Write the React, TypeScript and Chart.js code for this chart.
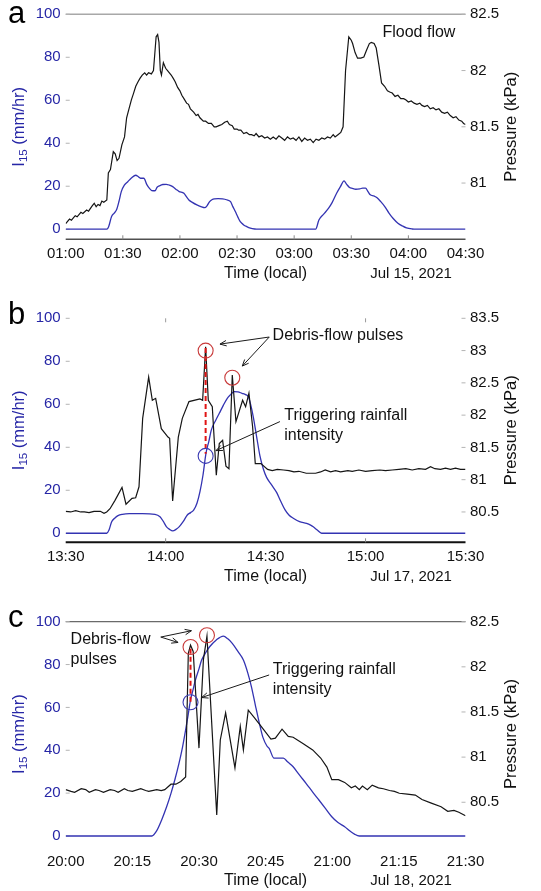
import React, { useEffect, useRef } from "react";
import { Chart, registerables } from "chart.js";

Chart.register(...registerables);

const FONT = '"Liberation Sans", Arial, Helvetica, sans-serif';
const BLUE_TEXT = "#2626a6";
const BLUE_LINE = "#3333b2";
const BLACK_LINE = "#151515";

// ---------- shared ticks ----------
const leftTicks = [0, 20, 40, 60, 80, 100];

// ---------- panel a (Jul 15, 2021) ----------
const aTickLabels = ["01:00", "01:30", "02:00", "02:30", "03:00", "03:30", "04:00", "04:30"];
const aRightTicks = [81, 81.5, 82, 82.5];
const aRainMin = [0, 21.6, 22.5, 24.1, 25.5, 26.7, 28, 29.2, 30.8, 32.6, 34.5, 36.8, 38, 39.3, 41, 42.7, 44, 45.2, 46.9, 48, 49.5, 51, 52.8, 54.5, 56.2, 58, 59.6, 62.1, 63.5, 64.7, 66.5, 68.9, 71, 73.1, 74.3, 75.6, 77, 78.2, 80, 82.4, 84.5, 86.6, 87.8, 89.1, 90.5, 91.7, 93.5, 95.1, 97, 99.3, 101, 131.3, 133, 135.5, 138.1, 140, 142.3, 144.3, 146.2, 147.5, 149.1, 150.5, 152.4, 154.5, 156, 157.5, 158.8, 160, 161.8, 163.4, 165.5, 167.6, 169.8, 171.9, 174.5, 176.9, 179, 182, 184, 210];
const aRainI15 = [0, 0, 1, 5.9, 7.5, 9, 13, 17.5, 20.5, 22.1, 23.8, 25.1, 24.5, 23.7, 23.7, 20.6, 19, 18, 17.9, 19.5, 20.3, 20.8, 20.9, 20.5, 19.8, 18.5, 17.5, 16.7, 15, 13.6, 12.5, 11.3, 10.5, 10, 11, 12.8, 13.8, 14.1, 14.2, 14.1, 13.7, 12.8, 10.5, 8.2, 5.5, 3.5, 2, 1.2, 0.5, 0.1, 0, 0, 4.3, 7, 9.8, 12.5, 16.7, 19.8, 22.5, 21, 19.4, 19, 18.6, 18.8, 19.1, 19.1, 17.5, 16, 15.5, 14.7, 12.8, 10.5, 7.5, 5.1, 2.8, 1.5, 0.6, 0.1, 0, 0];
const aPresMin = [0, 2, 3, 5, 6, 8, 9, 11, 12, 14, 15, 16, 17, 18, 19, 20, 21.6, 22.4, 23.5, 25, 26, 27, 28, 29.5, 30.9, 32, 33.1, 34.5, 35.5, 36.8, 38, 39, 40.2, 41.5, 42.5, 43.5, 45, 46.1, 46.8, 47.5, 48.3, 49, 49.7, 50.3, 51.3, 52.5, 53.5, 55.4, 56.5, 57.5, 58.8, 60, 61, 62.1, 63.5, 64.5, 65.5, 67.2, 68.5, 69.5, 70.5, 72.3, 73.5, 75, 76.5, 78, 79, 80.5, 82, 83.5, 84.9, 86, 87.5, 88.5, 90, 90.8, 92, 93.5, 95, 96.5, 97.6, 99, 100, 101.5, 103, 104.5, 106, 107.5, 109, 110.5, 112, 113.5, 115, 116.5, 118, 119.5, 121, 122.5, 124, 125.5, 127, 128.5, 130, 131.5, 133, 134.5, 136, 137.5, 139, 140.5, 141.5, 143, 144.5, 145.7, 147, 148.7, 150, 150.7, 152, 153.3, 155, 156.6, 158, 159.5, 160.5, 162, 163.1, 164.5, 165.9, 167.5, 169, 170.2, 171.5, 173, 174.5, 176, 177.5, 178.6, 180, 181.5, 183, 184.5, 186, 187.1, 188.5, 190, 191.5, 193, 194.5, 196, 197.5, 199, 200.5, 202, 203.5, 205, 206.5, 208, 209, 210];
const aPresKPa = [80.64, 80.68, 80.67, 80.71, 80.7, 80.74, 80.73, 80.76, 80.75, 80.8, 80.82, 80.79, 80.81, 80.8, 80.84, 80.83, 80.85, 81.09, 81.12, 81.28, 81.26, 81.2, 81.22, 81.34, 81.41, 81.58, 81.65, 81.74, 81.79, 81.86, 81.9, 81.93, 81.96, 81.98, 81.96, 81.98, 81.97, 82.0, 82.15, 82.3, 82.32, 82.25, 82.0, 81.96, 82.07, 82.02, 82.0, 81.96, 81.93, 81.9, 81.85, 81.82, 81.78, 81.75, 81.71, 81.7, 81.66, 81.63, 81.6, 81.61, 81.58, 81.55, 81.55, 81.53, 81.53, 81.5, 81.5, 81.51, 81.52, 81.54, 81.55, 81.52, 81.51, 81.48, 81.48, 81.47, 81.47, 81.44, 81.45, 81.43, 81.43, 81.42, 81.44, 81.41, 81.42, 81.4, 81.41, 81.39, 81.41, 81.39, 81.42, 81.4, 81.38, 81.41, 81.39, 81.4, 81.38, 81.41, 81.37, 81.4, 81.38, 81.39, 81.36, 81.39, 81.38, 81.4, 81.39, 81.41, 81.4, 81.43, 81.41, 81.43, 81.45, 81.5, 82.0, 82.3, 82.27, 82.24, 82.16, 82.11, 82.11, 82.12, 82.18, 82.24, 82.25, 82.24, 82.2, 82.05, 81.89, 81.86, 81.82, 81.81, 81.8, 81.77, 81.78, 81.75, 81.75, 81.74, 81.72, 81.73, 81.71, 81.7, 81.71, 81.69, 81.68, 81.69, 81.66, 81.67, 81.65, 81.66, 81.63, 81.62, 81.63, 81.6, 81.58, 81.59, 81.56, 81.55, 81.53, 81.52];

// ---------- panel b (Jul 17, 2021) ----------
const bTickLabels = ["13:30", "14:00", "14:30", "15:00", "15:30"];
const bRightTicks = [80.5, 81, 81.5, 82, 82.5, 83, 83.5];
const bRainMin = [0, 12.3, 13, 13.8, 14.7, 15.7, 17, 19.1, 23, 26.8, 28.3, 29.3, 30.2, 31.2, 32.1, 33.1, 34.1, 35.3, 36.5, 37.5, 38.4, 39.4, 40.3, 41.2, 42.1, 43, 43.7, 45, 46.1, 47.3, 48.5, 49.5, 50.5, 51.7, 52.9, 54, 54.8, 55.5, 56.3, 57.3, 58.3, 59.3, 60.3, 61.8, 63.3, 64.5, 65.8, 67, 68.3, 70.2, 72.3, 73.5, 74.3, 75.5, 76.8, 120];
const bRainI15 = [0, 0, 1.5, 5.4, 7, 8.2, 8.8, 9.1, 9.1, 8.8, 7.7, 5.5, 3.1, 1.8, 1.1, 1.8, 3.1, 5.5, 8.5, 9.6, 10.8, 14, 19.4, 27, 37.2, 43, 48, 52.5, 55.8, 59.5, 62.8, 64.5, 65.9, 65.8, 65.1, 64.5, 63.5, 60, 54.2, 45, 36, 30, 26, 22.5, 19, 15, 11, 8.5, 7, 5.4, 4.6, 3.8, 3, 1.5, 0, 0];
const bPresMin = [0, 1.5, 3, 4.5, 5.6, 7, 8.5, 10.4, 11.5, 12.3, 13.3, 14.8, 16.9, 18.1, 19.9, 21, 22, 23.1, 24.9, 26, 27, 28.7, 30.7, 31.2, 32.1, 33.8, 35, 37, 40.3, 41.1, 42, 42.8, 44, 45.2, 46.1, 47.1, 48.1, 49, 50, 51.1, 53.1, 54, 55, 56.1, 56.9, 58.6, 60.6, 62, 63.5, 65.4, 67, 68.5, 70, 72.2, 73.5, 75, 76.5, 77.9, 79.5, 81, 82.5, 84.7, 86, 88, 90, 92, 94.3, 96, 98, 100, 102.1, 104, 106, 108, 109.5, 110.8, 112.5, 114, 115.5, 117, 118.5, 120];
const bPresKPa = [80.51, 80.5, 80.52, 80.5, 80.5, 80.49, 80.51, 80.51, 80.48, 80.5, 80.55, 80.68, 80.88, 80.62, 80.71, 80.72, 80.89, 81.95, 82.59, 82.23, 82.26, 81.79, 81.66, 81.64, 80.67, 81.66, 81.95, 82.21, 82.25, 82.23, 83.06, 82.23, 82.13, 81.07, 81.56, 81.61, 81.21, 81.17, 82.62, 81.9, 82.23, 82.13, 82.34, 81.82, 81.25, 81.25, 81.16, 81.14, 81.16, 81.15, 81.14, 81.12, 81.13, 81.1, 81.1, 81.1, 81.12, 81.15, 81.12, 81.14, 81.12, 81.14, 81.13, 81.15, 81.13, 81.14, 81.15, 81.14, 81.15, 81.16, 81.17, 81.15, 81.17, 81.16, 81.2, 81.17, 81.16, 81.18, 81.16, 81.18, 81.16, 81.16];

// ---------- panel c (Jul 18, 2021) ----------
const cTickLabels = ["20:00", "20:15", "20:30", "20:45", "21:00", "21:15", "21:30"];
const cRightTicks = [80.5, 81, 81.5, 82, 82.5];
const cRainMin = [0, 19.4, 20.5, 21.6, 22.7, 23.7, 24.6, 25.5, 26.3, 27, 27.6, 28.1, 28.7, 29.2, 30, 30.6, 31.5, 32.4, 33.9, 35.5, 36.5, 37.5, 38.8, 40, 41, 41.8, 42.7, 43.6, 44.4, 45.3, 45.8, 46.9, 49, 50, 51.2, 52.6, 54.1, 55.6, 57, 58.5, 59.9, 61.3, 62.8, 64, 65, 66.1, 90];
const cRainI15 = [0, 0, 2.5, 7.5, 13.5, 19.9, 26.5, 33.9, 41.5, 49.5, 57, 63.5, 68.5, 72.8, 78, 82.1, 85.5, 88.3, 91.5, 93.3, 92, 89.9, 86, 82.1, 76, 69.7, 61, 52.6, 46, 42, 40.9, 36.3, 36.3, 34.5, 32.3, 28.5, 24.6, 20.5, 16.8, 12.8, 9, 6.3, 4.3, 2.3, 0.9, 0, 0];
const cPresMin = [0, 1.2, 2, 3.5, 4.5, 5.3, 6.7, 7.5, 8.5, 10, 11, 11.8, 13.2, 14, 15, 16.9, 18, 18.7, 20.5, 21.5, 22.3, 23.7, 24.8, 25.9, 27, 27.6, 28.1, 28.7, 30, 31, 31.8, 34, 34.8, 36, 38.1, 39.3, 40, 41.1, 42.6, 44, 46.2, 47.2, 48.7, 50.1, 51.2, 53.4, 55.6, 57.4, 58.8, 59.9, 61.4, 62.8, 64.3, 65.2, 66.1, 66.8, 67.9, 69, 70.4, 71.5, 72.9, 74, 75.1, 76.9, 78.7, 80.2, 82.3, 84.5, 86, 87.4, 88.5, 90];
const cPresKPa = [80.64, 80.62, 80.61, 80.65, 80.64, 80.61, 80.64, 80.63, 80.61, 80.64, 80.63, 80.61, 80.65, 80.63, 80.62, 80.65, 80.63, 80.62, 80.64, 80.63, 80.64, 80.7, 80.7, 80.73, 80.78, 82.15, 82.24, 82.17, 81.1, 82.08, 82.34, 80.36, 81.19, 81.49, 80.88, 81.34, 81.08, 81.52, 81.43, 81.34, 81.2, 81.21, 81.31, 81.23, 81.22, 81.15, 81.08, 80.99, 80.89, 80.75, 80.75, 80.72, 80.66, 80.68, 80.64, 80.68, 80.64, 80.69, 80.66, 80.65, 80.63, 80.62, 80.6, 80.59, 80.58, 80.53, 80.49, 80.45, 80.4, 80.41, 80.39, 80.35];

type Note =
  | { kind: "text"; x: number; y: number; axis: "L" | "R"; lines: string[] }
  | { kind: "circle"; x: number; y: number; axis: "L" | "R"; color: string }
  | { kind: "dash"; x: number; yTopR: number; yBotL: number }
  | { kind: "arrow"; x1: number; y1: number; x2: number; y2: number; axis: "L" | "R" };

type Panel = {
  letter: string;
  top: number;
  height: number;
  areaTop: number;
  areaBottom: number;
  xMax: number;
  xStep: number;
  xLabels: string[];
  leftMin: number;
  rightMin: number;
  rightMax: number;
  rightTicks: number[];
  rainT: number[];
  rainV: number[];
  presT: number[];
  presV: number[];
  date: string;
  letterY: number;
  frame: {
    top: null | { color: string; width: number };
    bottom: null | { color: string; width: number };
    xTicksBottom: number[];
    xTicksTop: number[];
  };
  notes: Note[];
};

const RED = "#c83a3a";
const BLUEC = "#3a3ab2";

const panels: Panel[] = [
  {
    letter: "a", top: 0, height: 290, areaTop: 14.3, areaBottom: 239.3,
    xMax: 210, xStep: 30, xLabels: aTickLabels,
    leftMin: -4.7, rightMin: 80.5, rightMax: 82.5, rightTicks: aRightTicks,
    rainT: aRainMin, rainV: aRainI15, presT: aPresMin, presV: aPresKPa,
    date: "Jul 15, 2021", letterY: 23,
    frame: {
      top: { color: "#a8a8a8", width: 1.5 },
      bottom: { color: "#505050", width: 1.5 },
      xTicksBottom: [30, 60, 90, 120, 150, 180],
      xTicksTop: [],
    },
    notes: [{ kind: "text", x: 166.4, y: 82.34, axis: "R", lines: ["Flood flow"] }],
  },
  {
    letter: "b", top: 290, height: 300, areaTop: 28.3, areaBottom: 252.3,
    xMax: 120, xStep: 30, xLabels: bTickLabels,
    leftMin: -4.2, rightMin: 80.03, rightMax: 83.5, rightTicks: bRightTicks,
    rainT: bRainMin, rainV: bRainI15, presT: bPresMin, presV: bPresKPa,
    date: "Jul 17, 2021", letterY: 34,
    frame: {
      top: null,
      bottom: { color: "#111111", width: 2 },
      xTicksBottom: [30, 90],
      xTicksTop: [30, 90],
    },
    notes: [
      { kind: "dash", x: 42, yTopR: 83.04, yBotL: 37 },
      { kind: "circle", x: 42, y: 83.0, axis: "R", color: RED },
      { kind: "circle", x: 50, y: 82.58, axis: "R", color: RED },
      { kind: "circle", x: 42, y: 36, axis: "L", color: BLUEC },
      { kind: "arrow", x1: 61.1, y1: 83.21, x2: 46.3, y2: 83.1, axis: "R" },
      { kind: "arrow", x1: 61.1, y1: 83.21, x2: 53, y2: 82.76, axis: "R" },
      { kind: "text", x: 62.1, y: 83.23, axis: "R", lines: ["Debris-flow pulses"] },
      { kind: "arrow", x1: 64.3, y1: 81.9, x2: 45.1, y2: 81.45, axis: "R" },
      { kind: "text", x: 65.6, y: 82.0, axis: "R", lines: ["Triggering rainfall", "intensity"] },
    ],
  },
  {
    letter: "c", top: 590, height: 301, areaTop: 31.7, areaBottom: 256.5,
    xMax: 90, xStep: 15, xLabels: cTickLabels,
    leftMin: -4.9, rightMin: 80.01, rightMax: 82.5, rightTicks: cRightTicks,
    rainT: cRainMin, rainV: cRainI15, presT: cPresMin, presV: cPresKPa,
    date: "Jul 18, 2021", letterY: 36.7,
    frame: {
      top: { color: "#6a6a6a", width: 1.3 },
      bottom: null,
      xTicksBottom: [],
      xTicksTop: [],
    },
    notes: [
      { kind: "dash", x: 28.1, yTopR: 82.2, yBotL: 62.5 },
      { kind: "circle", x: 28.1, y: 82.22, axis: "R", color: RED },
      { kind: "circle", x: 31.8, y: 82.35, axis: "R", color: RED },
      { kind: "circle", x: 28.1, y: 62.4, axis: "L", color: BLUEC },
      { kind: "text", x: 1.1, y: 82.305, axis: "R", lines: ["Debris-flow", "pulses"] },
      { kind: "arrow", x1: 21.4, y1: 82.33, x2: 28.3, y2: 82.4, axis: "R" },
      { kind: "arrow", x1: 21.4, y1: 82.33, x2: 25.3, y2: 82.27, axis: "R" },
      { kind: "text", x: 46.6, y: 81.965, axis: "R", lines: ["Triggering rainfall", "intensity"] },
      { kind: "arrow", x1: 45.8, y1: 81.91, x2: 30.6, y2: 81.66, axis: "R" },
    ],
  },
];

const decorPlugin = {
  id: "decor",
  beforeDatasetsDraw(chart: any, _args: any, opts: any) {
    const p: Panel = opts.panel;
    const { ctx, chartArea: a, scales } = chart;
    ctx.save();
    const seg = (x1: number, y1: number, x2: number, y2: number, color: string, w: number) => {
      ctx.strokeStyle = color;
      ctx.lineWidth = w;
      ctx.beginPath();
      ctx.moveTo(x1, y1);
      ctx.lineTo(x2, y2);
      ctx.stroke();
    };
    if (p.frame.top) seg(a.left, a.top, a.right, a.top, p.frame.top.color, p.frame.top.width);
    if (p.frame.bottom) seg(a.left, a.bottom, a.right, a.bottom, p.frame.bottom.color, p.frame.bottom.width);
    for (const v of p.frame.xTicksBottom) {
      const px = scales.x.getPixelForValue(v);
      seg(px, a.bottom, px, a.bottom - 4, "#8a8a8a", 1);
    }
    for (const v of p.frame.xTicksTop) {
      const px = scales.x.getPixelForValue(v);
      seg(px, a.top, px, a.top + 4, "#9a9a9a", 1);
    }
    for (const v of leftTicks) {
      const py = scales.yL.getPixelForValue(v);
      seg(a.left, py, a.left + 4, py, "#b4b4b4", 1);
    }
    for (const v of p.rightTicks) {
      const py = scales.yR.getPixelForValue(v);
      seg(a.right - 4, py, a.right, py, "#b4b4b4", 1);
    }
    ctx.restore();
  },
  afterDatasetsDraw(chart: any, _args: any, opts: any) {
    const p: Panel = opts.panel;
    const { ctx, scales } = chart;
    const X = (v: number) => scales.x.getPixelForValue(v);
    const Y = (v: number, axis: "L" | "R") => (axis === "L" ? scales.yL : scales.yR).getPixelForValue(v);
    ctx.save();
    for (const n of p.notes) {
      if (n.kind === "dash") {
        ctx.strokeStyle = "#e01414";
        ctx.lineWidth = 2;
        ctx.setLineDash([5, 3]);
        ctx.beginPath();
        ctx.moveTo(X(n.x), Y(n.yTopR, "R"));
        ctx.lineTo(X(n.x), Y(n.yBotL, "L"));
        ctx.stroke();
        ctx.setLineDash([]);
      } else if (n.kind === "circle") {
        ctx.strokeStyle = n.color;
        ctx.lineWidth = 1.1;
        ctx.beginPath();
        ctx.arc(X(n.x), Y(n.y, n.axis), 7.5, 0, Math.PI * 2);
        ctx.stroke();
      } else if (n.kind === "arrow") {
        const x1 = X(n.x1), y1 = Y(n.y1, n.axis), x2 = X(n.x2), y2 = Y(n.y2, n.axis);
        ctx.strokeStyle = "#1a1a1a";
        ctx.lineWidth = 1;
        ctx.beginPath();
        ctx.moveTo(x1, y1);
        ctx.lineTo(x2, y2);
        ctx.stroke();
        const ang = Math.atan2(y2 - y1, x2 - x1);
        const L = 7, H = 0.4;
        ctx.beginPath();
        ctx.moveTo(x2 - L * Math.cos(ang - H), y2 - L * Math.sin(ang - H));
        ctx.lineTo(x2, y2);
        ctx.lineTo(x2 - L * Math.cos(ang + H), y2 - L * Math.sin(ang + H));
        ctx.stroke();
      } else if (n.kind === "text") {
        ctx.fillStyle = "#111";
        ctx.font = `16px ${FONT}`;
        ctx.textAlign = "left";
        ctx.textBaseline = "middle";
        n.lines.forEach((s, i) => ctx.fillText(s, X(n.x), Y(n.y, n.axis) + i * 20));
      }
    }
    ctx.restore();
  },
  afterDraw(chart: any, _args: any, opts: any) {
    const p: Panel = opts.panel;
    const { ctx, chartArea: a } = chart;
    ctx.save();
    // panel letter
    ctx.fillStyle = "#000";
    ctx.font = `31px ${FONT}`;
    ctx.textAlign = "left";
    ctx.textBaseline = "alphabetic";
    ctx.fillText(p.letter, 8, p.letterY);
    // x titles
    const cy = a.bottom + 38.3;
    ctx.fillStyle = "#111";
    ctx.textAlign = "center";
    ctx.font = `16px ${FONT}`;
    ctx.fillText("Time (local)", (a.left + a.right) / 2, cy);
    ctx.font = `15px ${FONT}`;
    ctx.fillText(p.date, 411, cy);
    // left title with subscript
    const midY = (a.top + a.bottom) / 2;
    ctx.save();
    ctx.translate(24, midY);
    ctx.rotate(-Math.PI / 2);
    ctx.textAlign = "left";
    ctx.fillStyle = BLUE_TEXT;
    const mainF = `16.5px ${FONT}`, subF = `11.5px ${FONT}`;
    ctx.font = mainF;
    const wI = ctx.measureText("I").width;
    const wRest = ctx.measureText(" (mm/hr)").width;
    ctx.font = subF;
    const wSub = ctx.measureText("15").width;
    let x0 = -(wI + wSub + wRest) / 2;
    ctx.font = mainF;
    ctx.fillText("I", x0, 0);
    x0 += wI;
    ctx.font = subF;
    ctx.fillText("15", x0, 3.2);
    x0 += wSub;
    ctx.font = mainF;
    ctx.fillText(" (mm/hr)", x0, 0);
    ctx.restore();
    // right title
    ctx.save();
    ctx.translate(515.5, midY);
    ctx.rotate(-Math.PI / 2);
    ctx.textAlign = "center";
    ctx.fillStyle = "#111";
    ctx.font = `16.5px ${FONT}`;
    ctx.fillText("Pressure (kPa)", 0, 0);
    ctx.restore();
    ctx.restore();
  },
};

function PanelChart({ p }: { p: Panel }) {
  const ref = useRef<HTMLCanvasElement | null>(null);
  useEffect(() => {
    if (!ref.current) return;
    const xH = p.height - p.areaBottom;
    const chart = new Chart(ref.current, {
      type: "line",
      data: {
        datasets: [
          {
            label: "Pressure (kPa)",
            data: p.presT.map((t, i) => ({ x: t, y: p.presV[i] })),
            yAxisID: "yR",
            borderColor: BLACK_LINE,
            borderWidth: 1.2,
            pointRadius: 0,
            tension: 0,
          },
          {
            label: "I15 (mm/hr)",
            data: p.rainT.map((t, i) => ({ x: t, y: p.rainV[i] })),
            yAxisID: "yL",
            borderColor: BLUE_LINE,
            borderWidth: 1.3,
            pointRadius: 0,
            tension: 0.25,
            cubicInterpolationMode: "monotone",
          },
        ],
      },
      options: {
        animation: false,
        responsive: false,
        devicePixelRatio: window.devicePixelRatio || 1,
        layout: { padding: { top: p.areaTop, left: 0, right: 0, bottom: 0 } },
        plugins: {
          legend: { display: false },
          tooltip: { enabled: false },
          decor: { panel: p },
        } as any,
        scales: {
          x: {
            type: "linear",
            min: 0,
            max: p.xMax,
            afterBuildTicks: (s: any) => {
              s.ticks = p.xLabels.map((_, i) => ({ value: i * p.xStep }));
            },
            afterFit: (s: any) => {
              s.height = xH;
            },
            ticks: {
              autoSkip: false,
              maxRotation: 0,
              minRotation: 0,
              padding: 5.9,
              color: "#111",
              font: { family: FONT, size: 15 },
              callback: (_v: any, i: number) => p.xLabels[i],
            },
            grid: { display: false, drawTicks: false },
            border: { display: false },
          },
          yL: {
            type: "linear",
            position: "left",
            min: p.leftMin,
            max: 100,
            afterBuildTicks: (s: any) => {
              s.ticks = leftTicks.map((v) => ({ value: v }));
            },
            afterFit: (s: any) => {
              s.width = 65.7;
            },
            ticks: {
              padding: 5,
              color: BLUE_TEXT,
              font: { family: FONT, size: 15 },
              callback: (v: any) => String(v),
            },
            grid: { display: false, drawTicks: false },
            border: { display: false },
          },
          yR: {
            type: "linear",
            position: "right",
            min: p.rightMin,
            max: p.rightMax,
            afterBuildTicks: (s: any) => {
              s.ticks = p.rightTicks.map((v) => ({ value: v }));
            },
            afterFit: (s: any) => {
              s.width = 541 - 465.5;
            },
            ticks: {
              padding: 4.5,
              color: "#111",
              font: { family: FONT, size: 15 },
              callback: (v: any) => String(v),
            },
            grid: { display: false, drawTicks: false },
            border: { display: false },
          },
        },
      } as any,
      plugins: [decorPlugin as any],
    });
    return () => chart.destroy();
  }, [p]);
  return (
    <canvas
      ref={ref}
      width={541}
      height={p.height}
      style={{ position: "absolute", left: 0, top: p.top, width: 541, height: p.height }}
    />
  );
}

export default function App() {
  return (
    <div
      style={{
        position: "absolute",
        left: 0,
        top: 0,
        width: 541,
        height: 891,
        overflow: "hidden",
        background: "#fff",
      }}
    >
      {panels.map((p) => (
        <PanelChart key={p.letter} p={p} />
      ))}
    </div>
  );
}
